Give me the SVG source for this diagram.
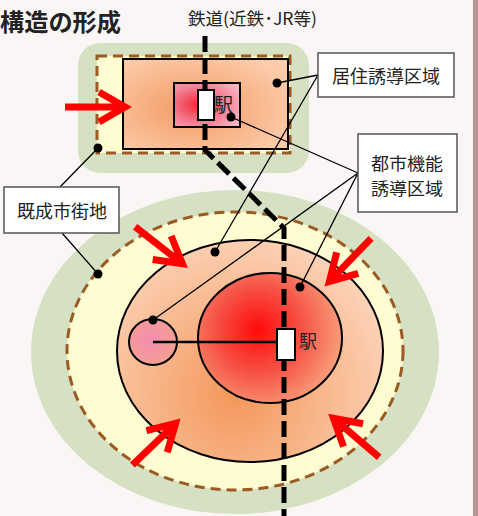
<svg xmlns="http://www.w3.org/2000/svg" width="478" height="516" viewBox="0 0 478 516">
<style>
  .lbl{fill:#fff;stroke:#555;stroke-width:1.5}
  .t{font-family:"Noto Sans CJK JP","Noto Sans",sans-serif;fill:#222}
  .dash{fill:none;stroke:#9a5a22;stroke-width:3;stroke-dasharray:10 6}
  .zone{stroke:#000;stroke-width:2}
  .conn{fill:none;stroke:#000;stroke-width:1.3}
  .dot{fill:#000}
  .arrow{fill:none;stroke:#ff0000;stroke-width:7;stroke-linejoin:miter;stroke-miterlimit:10}
  .rail{fill:none;stroke:#000;stroke-width:5;stroke-dasharray:16 6}
</style>
<defs>
  <path id="arr" d="M-62,0 L-6,0 M-28,-15 L-2,0 L-28,15"/>
  <radialGradient id="gTop" cx="0.42" cy="0.55" r="0.65">
    <stop offset="0" stop-color="#f39a62"/>
    <stop offset="1" stop-color="#fccbaa"/>
  </radialGradient>
  <radialGradient id="gSt" cx="0.35" cy="0.5" r="0.75">
    <stop offset="0" stop-color="#ee2c3a"/>
    <stop offset="0.55" stop-color="#f47f94"/>
    <stop offset="1" stop-color="#f8b9c6"/>
  </radialGradient>
  <radialGradient id="gOuter" gradientUnits="userSpaceOnUse" cx="235" cy="395" r="165">
    <stop offset="0" stop-color="#f4975a"/>
    <stop offset="1" stop-color="#fcd3b8"/>
  </radialGradient>
  <radialGradient id="gInner" gradientUnits="userSpaceOnUse" cx="258" cy="330" r="90">
    <stop offset="0" stop-color="#ff0a0a"/>
    <stop offset="0.5" stop-color="#f65548"/>
    <stop offset="1" stop-color="#f8a882"/>
  </radialGradient>
  <radialGradient id="gSmall" gradientUnits="userSpaceOnUse" cx="150" cy="340" r="28">
    <stop offset="0" stop-color="#f58cb2"/>
    <stop offset="1" stop-color="#f3a08e"/>
  </radialGradient>
</defs>

<rect x="0" y="0" width="478" height="516" fill="#faf6f5"/>
<rect x="473" y="0" width="5" height="516" fill="#b89694"/>

<text class="t" x="0" y="31" font-size="24" font-weight="bold" fill="#111" textLength="121" lengthAdjust="spacingAndGlyphs">構造の形成</text>
<text class="t" x="188" y="25" font-size="17" textLength="129" lengthAdjust="spacingAndGlyphs">鉄道(近鉄･JR等)</text>

<g id="bottom-area">
  <ellipse cx="235" cy="352" rx="204" ry="162" fill="#d6e1c4"/>
  <ellipse cx="235" cy="351" rx="168" ry="139" fill="#fffcd2"/>
  <ellipse class="dash" cx="235" cy="351" rx="168" ry="139"/>
  <ellipse class="zone" cx="250" cy="351" rx="133" ry="111" fill="url(#gOuter)"/>
  <ellipse class="zone" cx="270" cy="338" rx="72" ry="65" fill="url(#gInner)"/>
  <ellipse class="zone" cx="153" cy="342" rx="24" ry="23" fill="url(#gSmall)"/>
</g>

<g id="top-area">
  <rect x="78" y="43" width="231" height="130" rx="22" fill="#d6e1c4"/>
  <rect x="97" y="56" width="193" height="97" fill="#fffcd2"/>
  <rect class="dash" x="97" y="56" width="193" height="97"/>
  <rect class="zone" x="123" y="59" width="165" height="90" fill="url(#gTop)"/>
  <rect class="zone" x="174" y="83" width="66" height="44" fill="url(#gSt)"/>
</g>

<g id="railway">
  <path class="rail" d="M205,36 V150 L284,228 V516"/>
</g>

<g id="bottom-station">
  <line x1="153" y1="342" x2="278" y2="342" stroke="#000" stroke-width="2.5"/>
  <rect x="277" y="329" width="18" height="31" fill="#fff" stroke="#000" stroke-width="2"/>
  <text class="t" x="299" y="348" font-size="18">駅</text>
</g>

<g id="top-station">
  <rect x="198" y="90" width="16" height="30" fill="#fff" stroke="#000" stroke-width="2"/>
  <text class="t" x="214" y="112" font-size="19">駅</text>
</g>

<g id="arrows">
  <use href="#arr" class="arrow" transform="translate(127,107)"/>
  <use href="#arr" class="arrow" transform="translate(184,265) rotate(38)"/>
  <use href="#arr" class="arrow" transform="translate(328,283) rotate(134)"/>
  <use href="#arr" class="arrow" transform="translate(177,422) rotate(-44)"/>
  <use href="#arr" class="arrow" transform="translate(332,417) rotate(-139.5)"/>
</g>

<g id="connectors">
  <path class="conn" d="M318,75 L277,83 M318,75 L215,252"/>
  <path class="conn" d="M358,173 L231,117 M358,173 L300,287 M358,173 L153,320"/>
  <path class="conn" d="M60,187 L98,148 M62,233 L98,274"/>
  <circle class="dot" cx="277" cy="83" r="4.5"/>
  <circle class="dot" cx="231" cy="117" r="4.5"/>
  <circle class="dot" cx="98" cy="148" r="4.5"/>
  <circle class="dot" cx="215" cy="252" r="4.5"/>
  <circle class="dot" cx="300" cy="287" r="4.5"/>
  <circle class="dot" cx="153" cy="320" r="4.5"/>
  <circle class="dot" cx="98" cy="274" r="4.5"/>
</g>

<g id="label-kyoju">
  <rect class="lbl" x="318" y="53" width="136" height="44"/>
  <text class="t" x="386" y="83" font-size="18" text-anchor="middle">居住誘導区域</text>
</g>
<g id="label-toshi">
  <rect class="lbl" x="358" y="134" width="99" height="78"/>
  <text class="t" x="407" y="170" font-size="17" text-anchor="middle" textLength="72" lengthAdjust="spacingAndGlyphs">都市機能</text>
  <text class="t" x="407" y="195" font-size="17" text-anchor="middle" textLength="72" lengthAdjust="spacingAndGlyphs">誘導区域</text>
</g>
<g id="label-kisei">
  <rect class="lbl" x="4" y="187" width="115" height="46"/>
  <text class="t" x="62" y="218" font-size="18" text-anchor="middle">既成市街地</text>
</g>
</svg>
